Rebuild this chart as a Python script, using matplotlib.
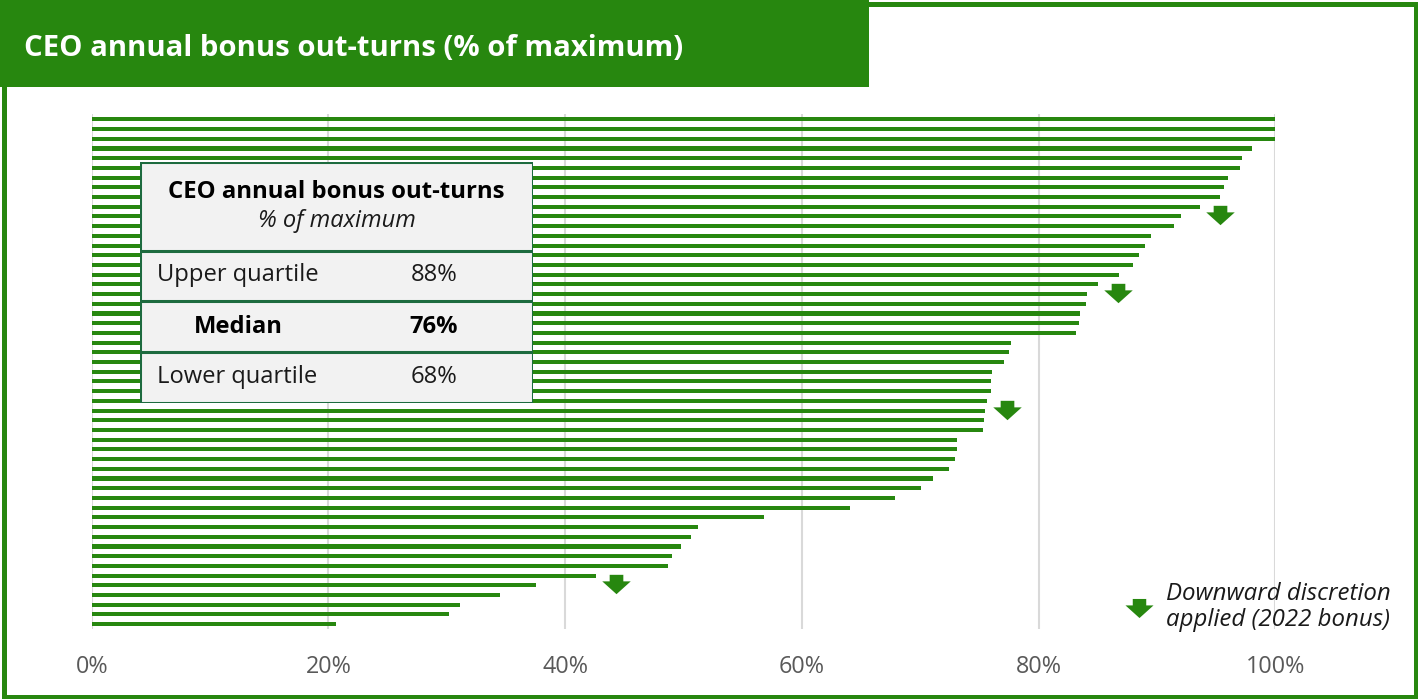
import matplotlib.pyplot as plt
from matplotlib.patches import Rectangle
from matplotlib.path import Path

plt.rcParams['font.family'] = ['Open Sans', 'DejaVu Sans']

# bonus out-turns as % of maximum, one bar per company, highest first
bonus = [100, 100, 100, 98.0, 97.2, 97.0, 96.0, 95.7, 95.3, 93.6,
         92.0, 91.4, 89.5, 89.0, 88.5, 88.0, 86.8, 85.0, 84.1, 84.0,
         83.5, 83.4, 83.2, 77.7, 77.5, 77.1, 76.1, 76.0, 76.0, 75.6,
         75.5, 75.4, 75.3, 73.1, 73.1, 72.9, 72.4, 71.1, 70.1, 67.9,
         64.1, 56.8, 51.2, 50.6, 49.8, 49.0, 48.7, 42.6, 37.5, 34.5,
         31.1, 30.2, 20.6]
# companies where downward discretion was applied
discretion = [9, 17, 29, 47]

stat_labels = ['Upper quartile', 'Median', 'Lower quartile']
stat_values = [88, 76, 68]
xticks = [0, 20, 40, 60, 80, 100]

GREEN = '#27870f'
TABLE_EDGE = '#1d6b3f'
W, H = 1418, 699

# down arrow marker
arrow = Path([(-0.48, 0.68), (0.48, 0.68), (0.48, 0.22), (1, 0.22),
              (0, -0.68), (-1, 0.22), (-0.48, 0.22), (-0.48, 0.68)],
             [Path.MOVETO] + [Path.LINETO] * 6 + [Path.CLOSEPOLY])


def fx(px):
    return px / W


def fy(py):
    return 1 - py / H


fig = plt.figure(figsize=(W / 100, H / 100), dpi=100)

# outer frame and title banner
fig.patches.append(Rectangle((fx(3.8), fy(697)), fx(1415.7) - fx(3.8), (697 - 3.8) / H,
                             transform=fig.transFigure, fill=False, edgecolor=GREEN, lw=3.6))
fig.patches.append(Rectangle((0, fy(87)), fx(869), 87 / H, transform=fig.transFigure,
                             facecolor=GREEN, edgecolor='none'))
fig.text(fx(24), fy(55.5), 'CEO annual bonus out-turns (% of maximum)', color='white',
         fontsize=21.1, fontweight='bold', va='baseline', ha='left')

ax = fig.add_axes([fx(91.7), fy(629), fx(1275.3) - fx(91.7), (629 - 114) / H])
idx = list(range(len(bonus)))
ax.barh(idx, bonus, height=0.42, color=GREEN, zorder=2)
ax.plot([bonus[i] + 1.7 for i in discretion], [i + 0.9 for i in discretion],
        ls='none', marker=arrow, ms=20.5, color=GREEN, mec='none', clip_on=False, zorder=3)

ax.set_xlim(0, 100)
ax.set_ylim(52.5, -0.55)
ax.set_xticks(xticks)
ax.set_xticklabels([f'{t}%' for t in xticks], fontsize=16.8, color='#595959')
ax.set_yticks([])
ax.tick_params(axis='x', length=0, pad=19)
ax.xaxis.grid(True, color='#d9d9d9', lw=1.5, zorder=0)
ax.set_axisbelow(True)
for s in ax.spines.values():
    s.set_visible(False)

# summary table over the bars
tx0, ty0, tx1, ty1 = 140, 161.7, 533.3, 403.3
tab = fig.add_axes([fx(tx0), fy(ty1), fx(tx1) - fx(tx0), (ty1 - ty0) / H])
tw, th = tx1 - tx0, ty1 - ty0
tab.set_xlim(0, tw)
tab.set_ylim(th, 0)
tab.axis('off')
tab.add_patch(Rectangle((0, 0), tw, th, facecolor='#f2f2f2', edgecolor=TABLE_EDGE, lw=2.2))
for yl in [89.3, 139.3, 190.6]:
    tab.plot([0, tw], [yl, yl], color=TABLE_EDGE, lw=2.2)
tab.text(tw / 2, 30, 'CEO annual bonus out-turns', ha='center', va='center',
         fontsize=17.2, fontweight='bold', color='black')
tab.text(tw / 2, 59, '% of maximum', ha='center', va='center', fontsize=17,
         style='italic', color='#1a1a1a')
row_y = [113.3, 165, 215]
for lab, val, yy in zip(stat_labels, stat_values, row_y):
    if lab == 'Median':
        tab.text(98.7, yy, lab, ha='center', va='center', fontsize=17.1, fontweight='bold')
        tab.text(294, yy, f'{val}%', ha='center', va='center', fontsize=17.1, fontweight='bold')
    else:
        tab.text(17.3, yy, lab, ha='left', va='center', fontsize=17.1, color='#1a1a1a')
        tab.text(294, yy, f'{val}%', ha='center', va='center', fontsize=17.1, color='#1a1a1a')

# legend
fig.lines.append(plt.Line2D([fx(1138.5)], [fy(607.5)], transform=fig.transFigure, ls='none',
                            marker=arrow, ms=20.2, color=GREEN, mec='none'))
fig.text(fx(1165.7), fy(606.7), 'Downward discretion\napplied (2022 bonus)', ha='left',
         va='center', fontsize=17.3, style='italic', color='#1a1a1a', linespacing=1.12)

fig.savefig('out.png', dpi=100)
